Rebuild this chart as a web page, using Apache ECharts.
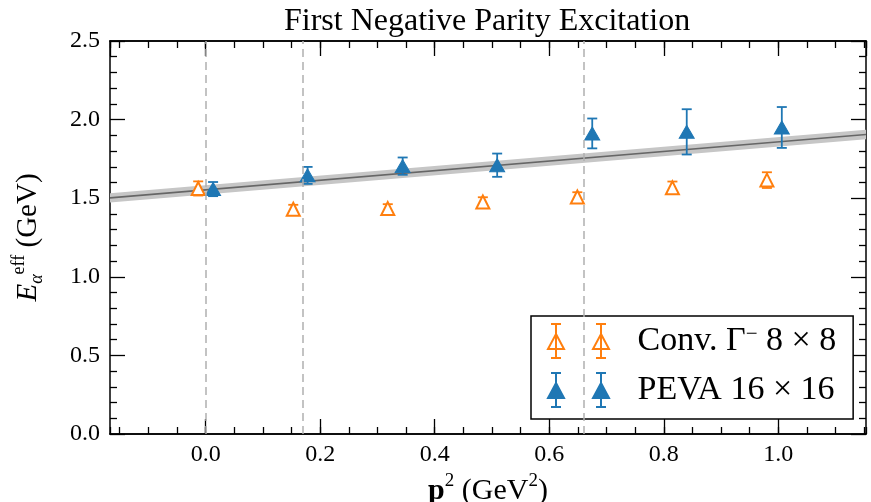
<!DOCTYPE html>
<html>
<head>
<meta charset="utf-8">
<script src="https://cdn.jsdelivr.net/npm/echarts@6/dist/echarts.min.js"></script>
<style>
  html, body { margin: 0; padding: 0; background: #fff; }
  #main { width: 871px; height: 502px; }
</style>
</head>
<body>
<div id="main"></div>
<script>
var FONT = 'Liberation Serif';

// axis limits
var xMin = -0.167, xMax = 1.153;
var yMin = 0, yMax = 2.5;

// Conv. Gamma^- 8x8 (hollow orange)
var convX = [-0.013, 0.153, 0.318, 0.484, 0.649, 0.815, 0.980];
var convY = [1.562, 1.430, 1.434, 1.476, 1.508, 1.566, 1.615];
var convErr = [0.045, 0.028, 0.028, 0.03, 0.03, 0.04, 0.05];

// PEVA 16x16 (filled blue)
var pevaX = [0.013, 0.178, 0.344, 0.509, 0.675, 0.840, 1.006];
var pevaY = [1.558, 1.645, 1.704, 1.710, 1.912, 1.922, 1.950];
var pevaErr = [0.045, 0.054, 0.055, 0.074, 0.095, 0.144, 0.13];

// linear fit and its band
var fitX = [-0.2, 1.2];
var fitY = [1.492, 1.919];
var fitLo = [1.462, 1.889];
var fitHi = [1.522, 1.949];

// dashed guides
var vLines = [0, 0.1655, 0.662];

var ORANGE = '#ff7f0e', BLUE = '#1f77b4';
var convName = 'Conv. Γ− 8 × 8', pevaName = 'PEVA 16 × 16';

function zip3(a, b, c) {
  return a.map(function (v, i) { return [v, b[i], c[i]]; });
}

function errRender(color) {
  return function (params, api) {
    var x = api.value(0), y = api.value(1), e = api.value(2);
    var t = api.coord([x, y + e]), b = api.coord([x, y - e]);
    var hw = 5;
    var st = { stroke: color, lineWidth: 1.8 };
    return {
      type: 'group',
      children: [
        { type: 'line', shape: { x1: t[0], y1: t[1], x2: b[0], y2: b[1] }, style: st },
        { type: 'line', shape: { x1: t[0] - hw, y1: t[1], x2: t[0] + hw, y2: t[1] }, style: st },
        { type: 'line', shape: { x1: b[0] - hw, y1: b[1], x2: b[0] + hw, y2: b[1] }, style: st }
      ]
    };
  };
}

var iconPath = 'path://M8,0L8,34M3,0L13,0M3,34L13,34M8,10L16,25L0,25Z' +
  'M53,0L53,34M48,0L58,0M48,34L58,34M53,10L61,25L45,25Z';

var myChart = echarts.init(document.getElementById('main'));

var xAxisBase = {
  type: 'value', min: xMin, max: xMax, gridIndex: 0,
  splitLine: { show: false },
  axisLine: { show: true, onZero: false, lineStyle: { color: '#000', width: 1.5 } }
};
function xAx(pos, split, len, labels) {
  return Object.assign({}, xAxisBase, {
    position: pos,
    splitNumber: split,
    axisTick: { show: true, inside: true, length: len, lineStyle: { color: '#000', width: 1.3 } },
    axisLabel: labels ? {
      show: true, margin: 9, color: '#000', fontFamily: FONT, fontSize: 24,
      showMinLabel: false, showMaxLabel: false,
      formatter: function (v) { return v.toFixed(1); }
    } : { show: false }
  });
}

var xMain = xAx('bottom', 6, 15, true);
xMain.name = '{b|p}{sup|2}{n| (GeV}{sup|2}{n|)}';
xMain.nameLocation = 'middle';
xMain.nameGap = 29;
xMain.nameTextStyle = {
  rich: {
    b: { fontFamily: FONT, fontSize: 30, fontWeight: 'bold', color: '#000', lineHeight: 34, verticalAlign: 'bottom' },
    n: { fontFamily: FONT, fontSize: 30, color: '#000', lineHeight: 34, verticalAlign: 'bottom' },
    sup: { fontFamily: FONT, fontSize: 19, color: '#000', lineHeight: 19, verticalAlign: 'top' }
  }
};

function yAx(pos, labels) {
  return {
    type: 'value', min: yMin, max: yMax, interval: 0.5, position: pos,
    splitLine: { show: false },
    axisLine: { show: true, onZero: false, lineStyle: { color: '#000', width: 1.5 } },
    axisTick: { show: true, inside: true, length: 15, lineStyle: { color: '#000', width: 1.3 } },
    minorTick: { show: true, splitNumber: 5, length: 7, lineStyle: { color: '#000', width: 1.3 } },
    axisLabel: labels ? {
      show: true, margin: 10, color: '#000', fontFamily: FONT, fontSize: 24,
      formatter: function (v) { return v.toFixed(1); }
    } : { show: false }
  };
}
var yMain = yAx('left', true);
yMain.name = '{e|E}{sub|α}{sup|eff}{n| (GeV)}';
yMain.nameLocation = 'middle';
yMain.nameGap = 64;
yMain.nameRotate = 90;
yMain.nameTextStyle = {
  rich: {
    e: { fontFamily: FONT, fontSize: 29, fontStyle: 'italic', color: '#000', lineHeight: 36, verticalAlign: 'middle' },
    n: { fontFamily: FONT, fontSize: 29, color: '#000', lineHeight: 36, verticalAlign: 'middle' },
    sub: { fontFamily: FONT, fontSize: 18, fontStyle: 'italic', color: '#000', lineHeight: 16, verticalAlign: 'bottom' },
    sup: { fontFamily: FONT, fontSize: 18, color: '#000', lineHeight: 16, verticalAlign: 'top' }
  }
};

var option = {
  animation: false,
  backgroundColor: '#fff',
  title: {
    text: 'First Negative Parity Excitation',
    left: 279, top: 1,
    textStyle: { fontFamily: FONT, fontWeight: 'normal', fontSize: 32, color: '#000' }
  },
  grid: { left: 110, right: 5, top: 41, bottom: 68, containLabel: false, outerBoundsMode: 'none' },
  xAxis: [xMain, xAx('bottom', 26, 7, false), xAx('top', 6, 15, false), xAx('top', 26, 7, false)],
  yAxis: [yMain, yAx('right', false)],
  legend: {
    left: 531, top: 316, orient: 'vertical', selectedMode: false,
    padding: [7, 17, 11, 16],
    itemWidth: 62, itemHeight: 34, itemGap: 13,
    borderColor: '#000', borderWidth: 1.5, borderRadius: 0, backgroundColor: '#fff',
    textStyle: {
      fontFamily: FONT, fontSize: 34, color: '#000', padding: [0, 0, 0, 23],
      rich: {
        t: { fontFamily: FONT, fontSize: 34, color: '#000' },
        s: { fontFamily: FONT, fontSize: 21, color: '#000', verticalAlign: 'top', lineHeight: 18 }
      }
    },
    formatter: function (name) {
      return name === convName ? '{t|Conv. Γ}{s|−}{t| 8 × 8}' : '{t|' + name + '}';
    },
    data: [
      { name: convName, icon: iconPath, itemStyle: { color: '#fff', borderColor: ORANGE, borderWidth: 2 } },
      { name: pevaName, icon: iconPath, itemStyle: { color: BLUE, borderColor: BLUE, borderWidth: 2 } }
    ]
  },
  series: [
    {
      name: 'fit', type: 'custom', clip: true, silent: true, z: 1,
      data: fitX.map(function (x, i) { return [x, fitY[i]]; }),
      renderItem: function (params, api) {
        if (params.dataIndex !== 0) return null;
        var hi = fitX.map(function (x, i) { return api.coord([x, fitHi[i]]); });
        var lo = fitX.map(function (x, i) { return api.coord([x, fitLo[i]]); }).reverse();
        var mid = fitX.map(function (x, i) { return api.coord([x, fitY[i]]); });
        return {
          type: 'group',
          children: [
            { type: 'polygon', shape: { points: hi.concat(lo) }, style: { fill: '#c6c6c6' } },
            { type: 'polyline', shape: { points: mid }, style: { stroke: '#666666', lineWidth: 1.5, fill: null } }
          ]
        };
      }
    },
    {
      name: 'guides', type: 'line', data: [], z: 2, silent: true,
      markLine: {
        silent: true, symbol: ['none', 'none'],
        label: { show: false },
        lineStyle: { color: '#b0b0b0', type: [8, 5], width: 1.5 },
        data: vLines.map(function (v) { return { xAxis: v }; })
      }
    },
    {
      name: 'convErr', type: 'custom', z: 3, silent: true,
      data: zip3(convX, convY, convErr),
      renderItem: errRender(ORANGE)
    },
    {
      name: 'pevaErr', type: 'custom', z: 3, silent: true,
      data: zip3(pevaX, pevaY, pevaErr),
      renderItem: errRender(BLUE)
    },
    {
      name: convName, type: 'scatter', z: 4,
      symbol: 'triangle', symbolSize: [13, 13],
      itemStyle: { color: '#fff', borderColor: ORANGE, borderWidth: 2, opacity: 1 },
      data: convX.map(function (x, i) { return [x, convY[i]]; })
    },
    {
      name: pevaName, type: 'scatter', z: 4,
      symbol: 'triangle', symbolSize: [15, 13],
      itemStyle: { color: BLUE, borderColor: BLUE, borderWidth: 1, opacity: 1 },
      data: pevaX.map(function (x, i) { return [x, pevaY[i]]; })
    }
  ]
};
myChart.setOption(option);
</script>
</body>
</html>
